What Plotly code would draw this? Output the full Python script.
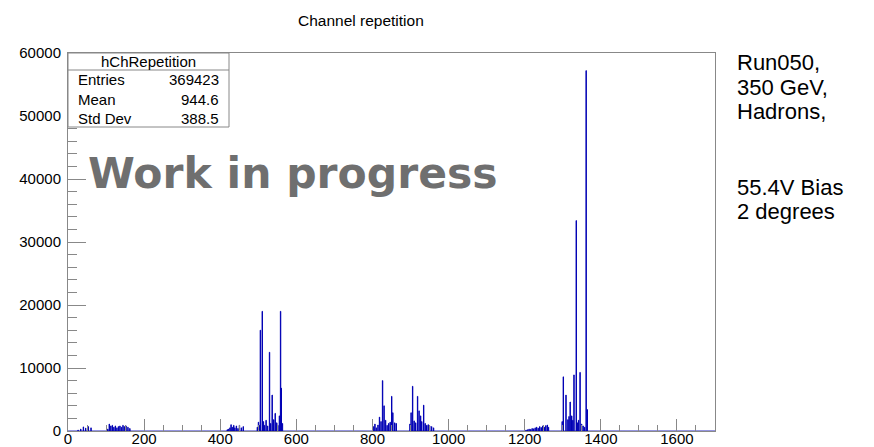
import numpy as np
import plotly.graph_objects as go

# Channel occupancy (channel number -> number of repeated hits)
channels = [
    26, 33, 40, 46, 53, 60,
    104, 108, 112, 116, 120, 124, 128, 132, 136, 140, 144, 148, 152, 157, 162,
    418, 421, 425, 428, 431, 435, 438, 442, 446, 450, 455, 460,
    497, 500, 503, 505, 510, 513, 516, 520, 524, 529, 532, 536, 540, 544, 548, 551, 555, 558, 560, 563,
    803, 806, 810, 814, 818, 822, 826, 830, 834, 838, 842, 846, 850, 853, 858, 862,
    898, 901, 905, 909, 913, 918, 922, 926, 929, 934, 938, 942, 946, 950, 955, 960,
    1203, 1207, 1211, 1215, 1219, 1223, 1227, 1231, 1235, 1239, 1243, 1247, 1251, 1255, 1259, 1262,
    1298, 1301, 1308, 1313, 1316, 1319, 1323, 1326, 1329, 1335, 1338, 1341, 1345, 1349, 1353, 1357, 1361, 1364,
]
counts = [
    150, 300, 650, 450, 700, 500,
    300, 1100, 800, 900, 600, 800, 500, 700, 800, 600, 900, 700, 800, 600, 400,
    200, 300, 500, 1000, 600, 900, 500, 800, 400, 900, 500, 700,
    600, 1400, 900, 16000, 19000, 1500, 900, 1700, 800, 12500, 1200, 5700, 1800, 2800, 1300, 900, 2400, 19000, 6800, 1200,
    700, 1100, 500, 950, 2200, 1500, 8000, 4000, 1700, 900, 1200, 1400, 5500, 2900, 1300, 1200,
    1100, 2900, 7100, 1600, 1300, 5500, 3200, 2400, 1500, 4100, 1200, 900, 1000, 800, 700, 500,
    150, 200, 300, 250, 400, 350, 500, 600, 450, 700, 550, 800, 600, 850, 950, 600,
    1500, 8600, 5700, 1800, 2300, 4600, 2400, 1700, 8900, 33400, 1300, 1700, 9300, 1100, 800, 600, 57200, 3400,
]

n_bins = 1700
hist = np.zeros(n_bins + 1)
for ch, c in zip(channels, counts):
    hist[ch] = c
edges = np.arange(n_bins + 1)

entries_text = "369423"
mean_text = "944.6"
std_text = "388.5"
run_info = ["Run050,", "350 GeV,", "Hadrons,", "", "", "55.4V Bias", "2 degrees"]

W, H = 874, 447
L, R, T, B = 68, 715, 53, 431


def px(x):
    return (x - L) / (R - L)


def py(y):
    return (B - y) / (B - T)


frame_col = "#888888"
txt_font = dict(family="Liberation Sans, Arial", size=15, color="black")

fig = go.Figure()
fig.add_trace(go.Scatter(
    x=edges, y=hist, mode="lines",
    line=dict(shape="hv", color="#0000b4", width=1),
    hoverinfo="skip", showlegend=False,
))

fig.update_layout(
    width=W, height=H,
    margin=dict(l=L, r=W - R, t=T, b=H - B, pad=0),
    plot_bgcolor="white", paper_bgcolor="white",
    showlegend=False,
    font=txt_font,
)
fig.update_xaxes(
    range=[0, 1700], showgrid=False, zeroline=False, automargin=False,
    showline=True, mirror=True, linecolor=frame_col, linewidth=1,
    ticks="inside", ticklen=12, tickcolor=frame_col, dtick=200, tick0=0,
    minor=dict(ticks="inside", ticklen=6, dtick=50, tickcolor=frame_col),
    tickfont=dict(family="Liberation Sans, Arial", size=15, color="black"),
    ticklabelstandoff=-6,
)
fig.update_yaxes(
    range=[0, 60000], showgrid=False, zeroline=False, automargin=False,
    showline=True, mirror=True, linecolor=frame_col, linewidth=1,
    ticks="inside", ticklen=18, tickcolor=frame_col, dtick=10000, tick0=0,
    tickformat="d",
    minor=dict(ticks="inside", ticklen=9, dtick=2000, tickcolor=frame_col),
    tickfont=dict(family="Liberation Sans, Arial", size=15, color="black"),
    ticklabelstandoff=3,
)

# Title
fig.add_annotation(
    text="Channel repetition", xref="paper", yref="paper",
    x=px(361), y=py(20), xanchor="center", yanchor="middle",
    showarrow=False, font=dict(family="Liberation Sans, Arial", size=15.5, color="black"),
)

# Statistics box
sx0, sx1, sy0, sy1, sep = 68, 229, 53, 127, 70
fig.add_shape(type="rect", xref="paper", yref="paper",
              x0=px(sx0), x1=px(sx1), y0=py(sy1), y1=py(sy0),
              line=dict(color=frame_col, width=1), fillcolor="white", layer="above")
fig.add_shape(type="line", xref="paper", yref="paper",
              x0=px(sx0), x1=px(sx1), y0=py(sep), y1=py(sep),
              line=dict(color=frame_col, width=1), layer="above")
fig.add_annotation(text="hChRepetition", xref="paper", yref="paper",
                   x=px((sx0 + sx1) / 2), y=py(61), xanchor="center", yanchor="middle",
                   showarrow=False, font=txt_font)
for label, value, yy in [("Entries", entries_text, 80), ("Mean", mean_text, 99), ("Std Dev", std_text, 118)]:
    fig.add_annotation(text=label, xref="paper", yref="paper",
                       x=px(76), y=py(yy), xanchor="left", yanchor="middle",
                       showarrow=False, font=txt_font)
    fig.add_annotation(text=value, xref="paper", yref="paper",
                       x=px(221), y=py(yy), xanchor="right", yanchor="middle",
                       showarrow=False, font=txt_font)

# Watermark
fig.add_annotation(text="Work in progress", xref="paper", yref="paper",
                   x=px(86), y=py(173), xanchor="left", yanchor="middle",
                   showarrow=False,
                   font=dict(family="DejaVu Sans", size=42.5, color="#6f6f6f", weight="bold"))

# Run information
for i, line in enumerate(run_info):
    if not line:
        continue
    fig.add_annotation(text=line, xref="paper", yref="paper",
                       x=px(735), y=py(62 + 25 * i), xanchor="left", yanchor="middle",
                       showarrow=False,
                       font=dict(family="Liberation Sans, Arial", size=22, color="black"))

fig.write_html("out.html")
